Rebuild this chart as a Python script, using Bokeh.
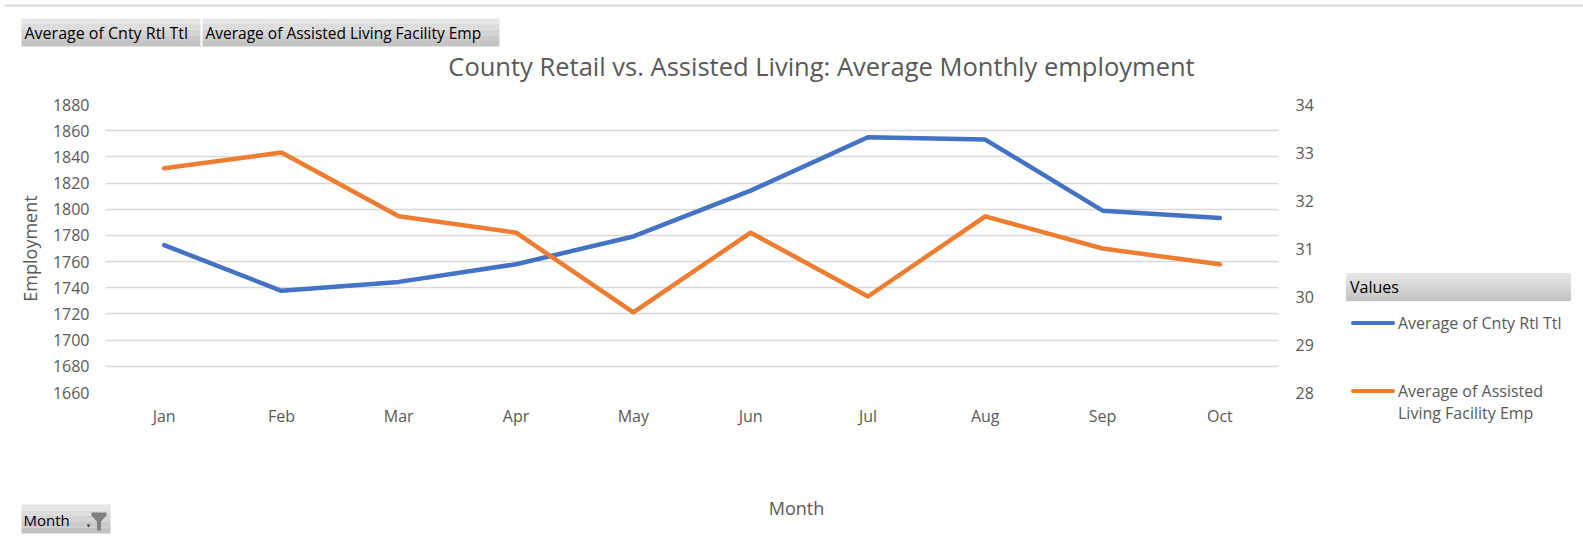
from bokeh.plotting import figure
from bokeh.layouts import column, row
from bokeh.models import (Range1d, LinearAxis, FixedTicker, FactorRange, Div,
                          Label, BoxAnnotation, PolyAnnotation)
from bokeh.embed import file_html
from bokeh.resources import INLINE

# ---------------- data ----------------
months = ["Jan", "Feb", "Mar", "Apr", "May", "Jun", "Jul", "Aug", "Sep", "Oct"]
retail_avg = [1772.6, 1737.7, 1744.5, 1758.0, 1779.2, 1814.2, 1855.0, 1853.2, 1798.9, 1793.3]
assisted_avg = [32.67, 33.0, 31.67, 31.33, 29.67, 31.33, 30.0, 31.67, 31.0, 30.67]
left_ticks = list(range(1660, 1881, 20))
right_ticks = [28, 29, 30, 31, 32, 33, 34]

title_text = "County Retail vs. Assisted Living: Average Monthly employment"
series_names = ["Average of Cnty Rtl Ttl", "Average of Assisted Living Facility Emp"]
legend_lines = [["Average of Cnty Rtl Ttl"], ["Average of Assisted", "Living Facility Emp"]]

BLUE = "#4472C4"
ORANGE = "#ED7D31"
GREY_TXT = "#595959"
FONT = "Open Sans"
GRAD = ["#e6e6e6", "#dddddd", "#d4d4d4", "#cbcbcb", "#c3c3c3"]

W, H = 1583, 545
TOP_H = 86          # band with pivot buttons and title
MID_END = 440       # main chart band ends here
MID_H = MID_END - TOP_H
MAIN_W = 1340
FL, FT, FR, FB = 105, 104, 1278, 392   # plot area edges in page pixels


def deco_fig(x0, x1, y0, y1):
    f = figure(width=x1 - x0, height=y1 - y0, x_range=Range1d(x0, x1), y_range=Range1d(y1, y0),
               x_axis_type=None, y_axis_type=None, output_backend="svg", toolbar_location=None,
               min_border=0)
    f.title.visible = False
    f.outline_line_color = None
    f.xgrid.visible = False
    f.ygrid.visible = False
    f.background_fill_color = "white"
    f.border_fill_color = "white"
    return f


def add_text(f, text, x, y, size, color=GREY_TXT, align="left"):
    f.add_layout(Label(x=x, y=y, text=text, text_font=FONT, text_font_size=size,
                       text_color=color, text_align=align, text_baseline="middle"))


def add_box(f, x0, x1, y0, y1, color):
    f.add_layout(BoxAnnotation(left=x0, right=x1, top=y0, bottom=y1, fill_color=color,
                               fill_alpha=1.0, line_color=None))


def add_button(f, x0, x1, y0, y1):
    n = len(GRAD)
    h = (y1 - y0) / n
    for i, c in enumerate(GRAD):
        add_box(f, x0, x1, y0 + i * h, y0 + (i + 1) * h, c)


# ---------- top band: outer frame line, pivot buttons, title ----------
top = deco_fig(0, W, 0, TOP_H)
add_box(top, 4, W, 4, 6, "#d9d9d9")
add_button(top, 21, 200, 18, 46)
add_button(top, 202, 499, 18, 46)
add_text(top, series_names[0], 24, 32, "16px", color="#000000")
add_text(top, series_names[1], 205, 32, "15.5px", color="#000000")
add_text(top, title_text, 821, 65, "25.5px", align="center")

# ---------- main chart ----------
p = figure(width=MAIN_W, height=MID_H, x_range=FactorRange(*months), y_range=Range1d(1660, 1880),
           output_backend="svg", toolbar_location=None,
           min_border_left=FL, min_border_top=FT - TOP_H, min_border_right=MAIN_W - FR,
           min_border_bottom=MID_END - FB)
p.title.visible = False
p.extra_y_ranges = {"right": Range1d(28, 34)}
p.outline_line_color = None
p.background_fill_color = "white"
p.border_fill_color = "white"

xaxis = p.xaxis[0]
laxis = p.yaxis[0]
raxis = LinearAxis(y_range_name="right", ticker=FixedTicker(ticks=right_ticks))
p.add_layout(raxis, "right")
for ax in [xaxis, laxis, raxis]:
    ax.axis_line_color = None
    ax.major_tick_line_color = None
    ax.minor_tick_line_color = None
    ax.major_tick_out = 0
    ax.major_tick_in = 0
    ax.minor_tick_out = 0
    ax.major_label_text_font = FONT
    ax.major_label_text_font_size = "16px"
    ax.major_label_text_color = GREY_TXT
xaxis.major_label_standoff = 12
laxis.ticker = FixedTicker(ticks=left_ticks)
laxis.major_label_standoff = 16
laxis.axis_label = "Employment"
laxis.axis_label_text_font = FONT
laxis.axis_label_text_font_size = "18px"
laxis.axis_label_text_font_style = "normal"
laxis.axis_label_text_color = GREY_TXT
laxis.axis_label_standoff = 8
raxis.major_label_standoff = 17

p.xgrid.grid_line_color = None
p.ygrid.grid_line_color = "#d9d9d9"
p.ygrid.grid_line_width = 1.5

p.line(months, retail_avg, line_color=BLUE, line_width=4.5, line_cap="round", line_join="round")
p.line(months, assisted_avg, line_color=ORANGE, line_width=4.5, line_cap="round",
       line_join="round", y_range_name="right")

# ---------- right band: legend (HTML, positioned relative to band origin) ----------
RX, RY = MAIN_W, TOP_H
parts = ['<div style="position:relative;width:%dpx;height:%dpx;font-family:\'%s\',sans-serif;">'
         % (W - MAIN_W, MID_H, FONT)]
parts.append('<div style="position:absolute;left:%dpx;top:%dpx;width:225px;height:28px;'
             'background:linear-gradient(#e8e8e8,#c3c3c3);"></div>' % (1346 - RX, 273 - RY))
parts.append('<div style="position:absolute;left:%dpx;top:%dpx;height:28px;line-height:28px;'
             'font-size:16px;color:#000;white-space:nowrap;">Values</div>' % (1350 - RX, 273 - RY))
for color, lines, yc in [(BLUE, legend_lines[0], 323), (ORANGE, legend_lines[1], 391)]:
    parts.append('<div style="position:absolute;left:%dpx;top:%.1fpx;width:44px;height:4.6px;'
                 'border-radius:2.3px;background:%s;"></div>' % (1351 - RX, yc - 2.3 - RY, color))
    parts.append('<div style="position:absolute;left:%dpx;top:%dpx;line-height:22px;font-size:16px;'
                 'color:%s;white-space:nowrap;">%s</div>'
                 % (1398 - RX, yc - 11 - RY, GREY_TXT, "<br>".join(lines)))
parts.append('</div>')
rdiv = Div(text="".join(parts), width=W - MAIN_W, height=MID_H, margin=0)

# ---------- bottom band: axis title and Month filter button ----------
bf = deco_fig(0, W, MID_END, H)
add_text(bf, "Month", 796, 507, "18px", align="center")
add_button(bf, 21, 110, 504, 533)
add_text(bf, "Month", 23, 519, "15px", color="#000000")
bf.add_layout(PolyAnnotation(xs=[86, 90, 88], ys=[524, 524, 527], fill_color="#404040",
                             fill_alpha=1.0, line_color=None))
bf.add_layout(PolyAnnotation(xs=[91, 106, 106, 100.5, 100.5, 96.5, 96.5, 91],
                             ys=[512, 512, 515, 521, 530, 530, 521, 515],
                             fill_color="#808080", fill_alpha=1.0, line_color=None))

layout = column(top, row(p, rdiv, spacing=0), bf, spacing=0)
open("out.html", "w").write(file_html(layout, INLINE))
